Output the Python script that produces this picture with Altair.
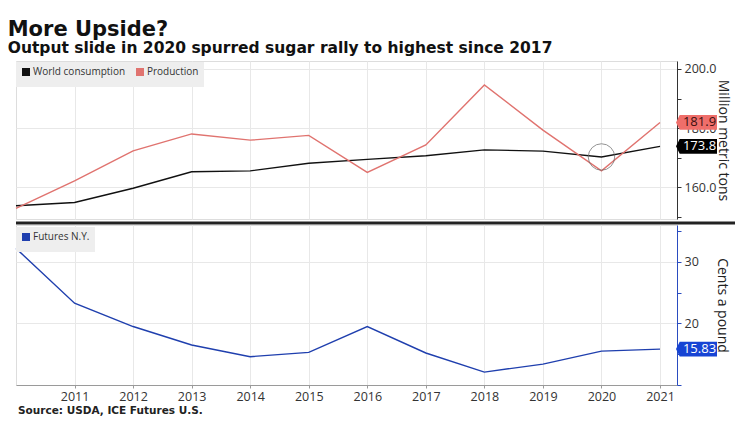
import altair as alt
import pandas as pd

# Marketing years shown on the shared x axis
years = list(range(2010, 2022))

# Global sugar balance, million metric tons
consumption = [153.7, 154.8, 159.6, 165.2, 165.5, 168.1, 169.4, 170.6, 172.6, 172.2, 170.2, 173.8]
production = [152.8, 162.1, 172.3, 178.0, 175.9, 177.5, 165.0, 174.3, 194.6, 179.3, 165.5, 181.9]

# ICE raw sugar futures, cents a pound
futures = [32.2, 23.3, 19.5, 16.5, 14.6, 15.3, 19.5, 15.2, 12.1, 13.4, 15.5, 15.83]

top_series = ["World consumption", "Production"]
top_colors = ["#111111", "#e0736f"]
bottom_series = ["Futures N.Y."]
bottom_colors = ["#1f3fae"]

FONT = "Open Sans"
W, H_TOP, H_BOT = 661, 158, 160
GRID = "#e8e8e8"
TAG_PATH = "M -1 0 L -0.82 -0.36 L 1 -0.36 L 1 0.36 L -0.82 0.36 Z"
X_SCALE = alt.Scale(domain=[2010, 2021.29], nice=False, zero=False)

supply = pd.DataFrame({
    "year": years * 2,
    "value": consumption + production,
    "series": [top_series[0]] * len(years) + [top_series[1]] * len(years),
})
prices = pd.DataFrame({"year": years, "value": futures, "series": bottom_series[0]})

x_top_axis = alt.Axis(values=years[1:], labels=False, ticks=False, domain=False,
                      title=None, gridColor=GRID, zindex=0)
x_bot_axis = alt.Axis(values=years[1:], format="d", title=None, gridColor=GRID,
                      labelFont=FONT, labelFontSize=12.5, labelColor="#333",
                      domainColor="#9a9a9a", tickColor="#9a9a9a", tickSize=3,
                      labelPadding=2, zindex=0)

# Axes sit behind the marks so the value flags cover the labels they overlap
y_top_scale = alt.Scale(domain=[149.2, 202.7], nice=False, zero=False)
y_top_axis = alt.Axis(
    orient="right", values=[150, 160, 170, 180, 190, 200], format=".1f",
    labelExpr="datum.value % 20 === 0 ? datum.label : ''",
    gridOpacity={"condition": {"test": "datum.value % 20 === 0", "value": 1}, "value": 0},
    gridColor=GRID, title="Million metric tons", titleFont=FONT,
    titleFontSize=14, titleFontWeight="normal", titleColor="#222",
    titlePadding=0, labelFont=FONT, labelFontSize=12.5, labelColor="#333",
    domainColor="#333", tickColor="#333", tickSize=4, labelPadding=3, zindex=0,
)

y_bot_scale = alt.Scale(domain=[10, 36], nice=False, zero=False)
y_bot_axis = alt.Axis(
    orient="right", values=[10, 15, 20, 25, 30, 35],
    labelExpr="datum.value % 10 === 0 && datum.value > 10 ? datum.label : ''",
    gridOpacity={"condition": {"test": "datum.value % 10 === 0", "value": 1}, "value": 0},
    gridColor=GRID, title="Cents a pound", titleFont=FONT, titleFontSize=14,
    titleFontWeight="normal", titleColor="#222", titlePadding=16,
    labelFont=FONT, labelFontSize=12.5, labelColor="#333",
    domainColor="#2a4cc0", tickColor="#2a4cc0", tickSize=4, labelPadding=3, zindex=0,
)


def legend_for(dy):
    return alt.Legend(
        orient="none", legendX=0, legendY=dy, direction="horizontal", title=None,
        fillColor="#eeeeee", padding=5, symbolType="square", symbolSize=16,
        symbolStrokeWidth=4, labelFont=FONT, labelFontSize=10, labelColor="#333",
        columnPadding=4, labelOffset=2,
    )


def value_tag(value, text, fill, ink, y_scale, y_axis, x_pos):
    """Flag-shaped label pinned to the right axis at a series' last value."""
    d = pd.DataFrame({"value": [value], "label": [text]})
    y = alt.Y("value:Q", scale=y_scale, axis=y_axis)
    flag = alt.Chart(d).mark_point(
        shape=TAG_PATH, filled=True, size=1681, color=fill, opacity=1, strokeWidth=0
    ).encode(x=alt.value(x_pos), y=y)
    txt = alt.Chart(d).mark_text(
        color=ink, font=FONT, fontSize=13, dx=3, baseline="middle"
    ).encode(x=alt.value(x_pos), y=y, text="label:N")
    return flag + txt


# ---- upper panel: supply and demand ----
top_lines = alt.Chart(supply).mark_line(strokeWidth=1.4).encode(
    x=alt.X("year:Q", scale=X_SCALE, axis=x_top_axis),
    y=alt.Y("value:Q", scale=y_top_scale, axis=y_top_axis),
    color=alt.Color("series:N", scale=alt.Scale(domain=top_series, range=top_colors),
                    legend=legend_for(1)),
    detail="series:N",
)

i2020 = years.index(2020)
circle = alt.Chart(pd.DataFrame({"year": [2020], "value": [consumption[i2020]]})).mark_point(
    shape="circle", size=700, filled=False, color="#666", strokeWidth=1
).encode(x=alt.X("year:Q", scale=X_SCALE, axis=x_top_axis),
         y=alt.Y("value:Q", scale=y_top_scale, axis=y_top_axis))

separator = alt.Chart(pd.DataFrame({"k": [0]})).mark_rule(color="#222", strokeWidth=3).encode(
    x=alt.value(0), x2=alt.value(719), y=alt.value(H_TOP + 4)
)

top = alt.layer(
    top_lines,
    circle,
    value_tag(production[-1], f"{production[-1]:.1f}", "#ef6e6a", "#3a1010",
              y_top_scale, y_top_axis, 680.5),
    value_tag(consumption[-1], f"{consumption[-1]:.1f}", "#000000", "#ffffff",
              y_top_scale, y_top_axis, 680.5),
    separator,
).properties(width=W, height=H_TOP)

# ---- lower panel: futures price ----
bottom_line = alt.Chart(prices).mark_line(strokeWidth=1.4).encode(
    x=alt.X("year:Q", scale=X_SCALE, axis=x_bot_axis),
    y=alt.Y("value:Q", scale=y_bot_scale, axis=y_bot_axis),
    color=alt.Color("series:N", scale=alt.Scale(domain=bottom_series, range=bottom_colors),
                    legend=legend_for(2)),
)

source = alt.Chart(pd.DataFrame({"t": ["Source: USDA, ICE Futures U.S."]})).mark_text(
    align="left", baseline="alphabetic", font="DejaVu Sans", fontWeight="bold",
    fontSize=10.5, color="#222"
).encode(x=alt.value(2), y=alt.value(H_BOT + 29), text="t:N")

bottom = alt.layer(
    bottom_line,
    value_tag(futures[-1], f"{futures[-1]:.2f}", "#1744d4", "#ffffff",
              y_bot_scale, y_bot_axis, 680.5),
    source,
).properties(width=W, height=H_BOT)

chart = alt.vconcat(top, bottom, spacing=6, bounds="flush").resolve_scale(
    color="independent", y="independent"
).resolve_legend(color="independent").properties(
    title=alt.TitleParams(
        "More Upside?",
        subtitle="Output slide in 2020 spurred sugar rally to highest since 2017",
        anchor="start", dx=-5, font="DejaVu Sans", fontSize=21, fontWeight="bold",
        color="#111", subtitleFont="DejaVu Sans", subtitleFontSize=15.5,
        subtitleFontWeight="bold", subtitleColor="#111", subtitlePadding=1, offset=4,
    ),
    padding={"left": 7, "top": 19, "right": 0, "bottom": 0},
).configure_view(stroke=None).configure(background="white")

chart.save("out.html", embed_options={"renderer": "svg", "actions": False})
